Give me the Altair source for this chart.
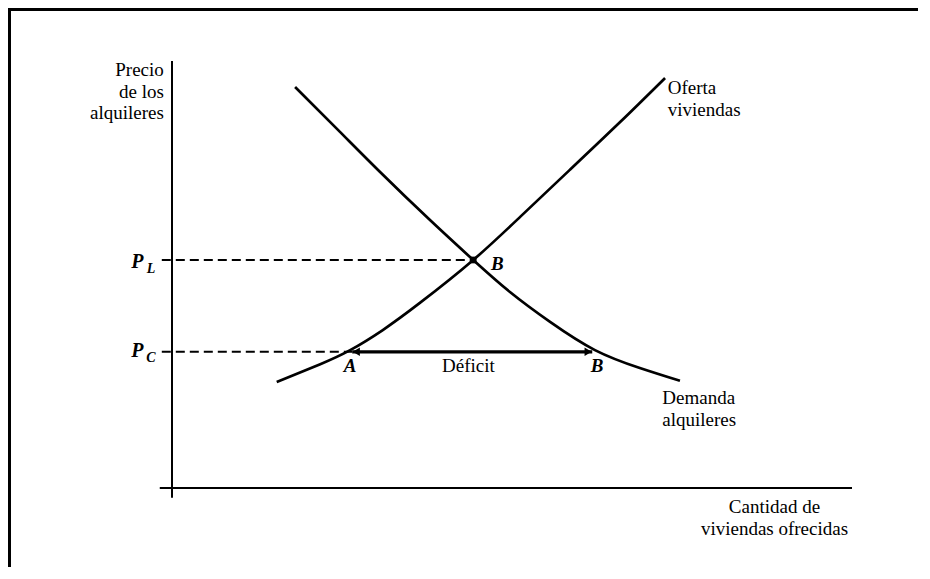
import altair as alt
import pandas as pd

# ---- data (schematic units: quantity 0-100, price 0-100) ----
supply_q = [15.4, 21.8, 26.2, 31.0, 36.5, 44.3, 51.2, 58.5, 65.9, 72.5]
supply_p = [24.8, 29.0, 32.3, 37.0, 43.4, 53.4, 63.5, 74.5, 85.7, 96.0]

demand_q = [18.1, 24.7, 30.6, 37.9, 44.3, 49.7, 55.6, 62.2, 68.8, 74.7]
demand_p = [93.9, 83.4, 74.0, 62.8, 53.4, 45.9, 38.9, 32.3, 28.1, 25.1]

eq_q, eq_p = 44.3, 53.4          # equilibrium B
pc = 31.9                        # controlled price
qa, qb = 26.5, 61.8              # A (supplied) and B (demanded) at P_C

FONT = "Liberation Serif"

xs = alt.Scale(domain=[0, 100], nice=False, zero=False)
ys = alt.Scale(domain=[0, 100], nice=False, zero=False)


def X(f="x"):
    return alt.X(f"{f}:Q", scale=xs, axis=None)


def Y(f="y"):
    return alt.Y(f"{f}:Q", scale=ys, axis=None)


curves = pd.concat([
    pd.DataFrame({"x": supply_q, "y": supply_p, "c": "oferta", "o": range(len(supply_q))}),
    pd.DataFrame({"x": demand_q, "y": demand_p, "c": "demanda", "o": range(len(demand_q))}),
])

curve_layer = alt.Chart(curves).mark_line(
    color="black", strokeWidth=2.7, interpolate="natural"
).encode(x=X(), y=Y(), detail="c:N", order="o:Q")

# axes drawn as rules
axes_df = pd.DataFrame({
    "x": [-1.8, 0.0], "x2": [100.0, 0.0],
    "y": [0.0, -2.3], "y2": [0.0, 100.0],
})
axes_layer = alt.Chart(axes_df).mark_rule(color="black", strokeWidth=2).encode(
    x=X(), x2="x2:Q", y=Y(), y2="y2:Q"
)

# dashed guides
dash_df = pd.DataFrame({"x": [-1.5, -1.5], "x2": [eq_q, qa], "y": [eq_p, pc]})
dash_layer = alt.Chart(dash_df).mark_rule(
    color="black", strokeWidth=2, strokeDash=[9, 5]
).encode(x=X(), x2="x2:Q", y=Y())

# deficit arrow
arrow_df = pd.DataFrame({"x": [qa], "x2": [qb], "y": [pc]})
arrow_layer = alt.Chart(arrow_df).mark_rule(color="black", strokeWidth=3.2).encode(
    x=X(), x2="x2:Q", y=Y()
)
heads_df = pd.DataFrame({"x": [qa + 0.6, qb - 0.6], "y": [pc, pc],
                         "s": ["triangle-left", "triangle-right"]})
heads_layer = alt.Chart(heads_df).mark_point(
    filled=True, color="black", size=70, opacity=1
).encode(x=X(), y=Y(), shape=alt.Shape("s:N", scale=None))

# equilibrium dot
dot_layer = alt.Chart(pd.DataFrame({"x": [eq_q], "y": [eq_p]})).mark_square(
    color="black", size=45, opacity=1
).encode(x=X(), y=Y())

# text labels
ylab_lines = ["Precio", "de los", "alquileres"]
ylab_df = pd.DataFrame({"x": [-1.2] * 3, "y": [97.9, 92.7, 87.8], "t": ylab_lines})
ylab = alt.Chart(ylab_df).mark_text(
    align="right", baseline="middle", font=FONT, fontSize=19
).encode(x=X(), y=Y(), text="t:N")

xlab_lines = ["Cantidad de", "viviendas ofrecidas"]
xlab_df = pd.DataFrame({"x": [88.6] * 2, "y": [-4.4, -9.6], "t": xlab_lines})
xlab = alt.Chart(xlab_df).mark_text(
    align="center", baseline="middle", font=FONT, fontSize=19
).encode(x=X(), y=Y(), text="t:N")

curve_lab_df = pd.DataFrame({
    "x": [72.9, 72.9, 72.1, 72.1],
    "y": [93.7, 88.5, 21.1, 15.9],
    "t": ["Oferta", "viviendas", "Demanda", "alquileres"],
})
curve_lab = alt.Chart(curve_lab_df).mark_text(
    align="left", baseline="middle", font=FONT, fontSize=19
).encode(x=X(), y=Y(), text="t:N")

deficit = alt.Chart(pd.DataFrame({"x": [43.6], "y": [28.6], "t": ["Déficit"]})).mark_text(
    align="center", baseline="middle", font=FONT, fontSize=19
).encode(x=X(), y=Y(), text="t:N")

pts_df = pd.DataFrame({"x": [26.2, 62.5], "y": [28.6, 28.6], "t": ["A", "B"]})
pts_lab = alt.Chart(pts_df).mark_text(
    align="center", baseline="middle", font=FONT, fontSize=19,
    fontStyle="italic", fontWeight="bold"
).encode(x=X(), y=Y(), text="t:N")

b_lab = alt.Chart(pd.DataFrame({"x": [46.9], "y": [52.5], "t": ["B"]})).mark_text(
    align="left", baseline="middle", font=FONT, fontSize=19,
    fontStyle="italic", fontWeight="bold"
).encode(x=X(), y=Y(), text="t:N")

p_df = pd.DataFrame({"x": [-5.1, -5.1], "y": [53.0, 32.1], "t": ["P", "P"]})
p_lab = alt.Chart(p_df).mark_text(
    align="center", baseline="middle", font=FONT, fontSize=20,
    fontStyle="italic", fontWeight="bold"
).encode(x=X(), y=Y(), text="t:N")
sub_df = pd.DataFrame({"x": [-3.1, -3.1], "y": [51.3, 30.4], "t": ["L", "C"]})
sub_lab = alt.Chart(sub_df).mark_text(
    align="center", baseline="middle", font=FONT, fontSize=14,
    fontStyle="italic", fontWeight="bold"
).encode(x=X(), y=Y(), text="t:N")

# outer frame (top and left edges)
frame_top = alt.Chart(pd.DataFrame({"a": [0]})).mark_rule(color="black", strokeWidth=3).encode(
    x=alt.value(-163), x2=alt.value(800), y=alt.value(-51.5)
)
frame_left = alt.Chart(pd.DataFrame({"a": [0]})).mark_rule(color="black", strokeWidth=3).encode(
    x=alt.value(-162.5), y=alt.value(-53), y2=alt.value(600)
)

chart = alt.layer(
    frame_top, frame_left,
    axes_layer, dash_layer, curve_layer, arrow_layer, heads_layer, dot_layer,
    ylab, xlab, curve_lab, deficit, pts_lab, b_lab, p_lab, sub_lab,
).properties(
    width=680, height=427,
    padding={"left": 164, "top": 53, "right": 66, "bottom": 79},
    autosize="none",
    background="white",
).configure_view(stroke=None)

chart.save("out.html", embed_options={"renderer": "svg", "actions": False})
